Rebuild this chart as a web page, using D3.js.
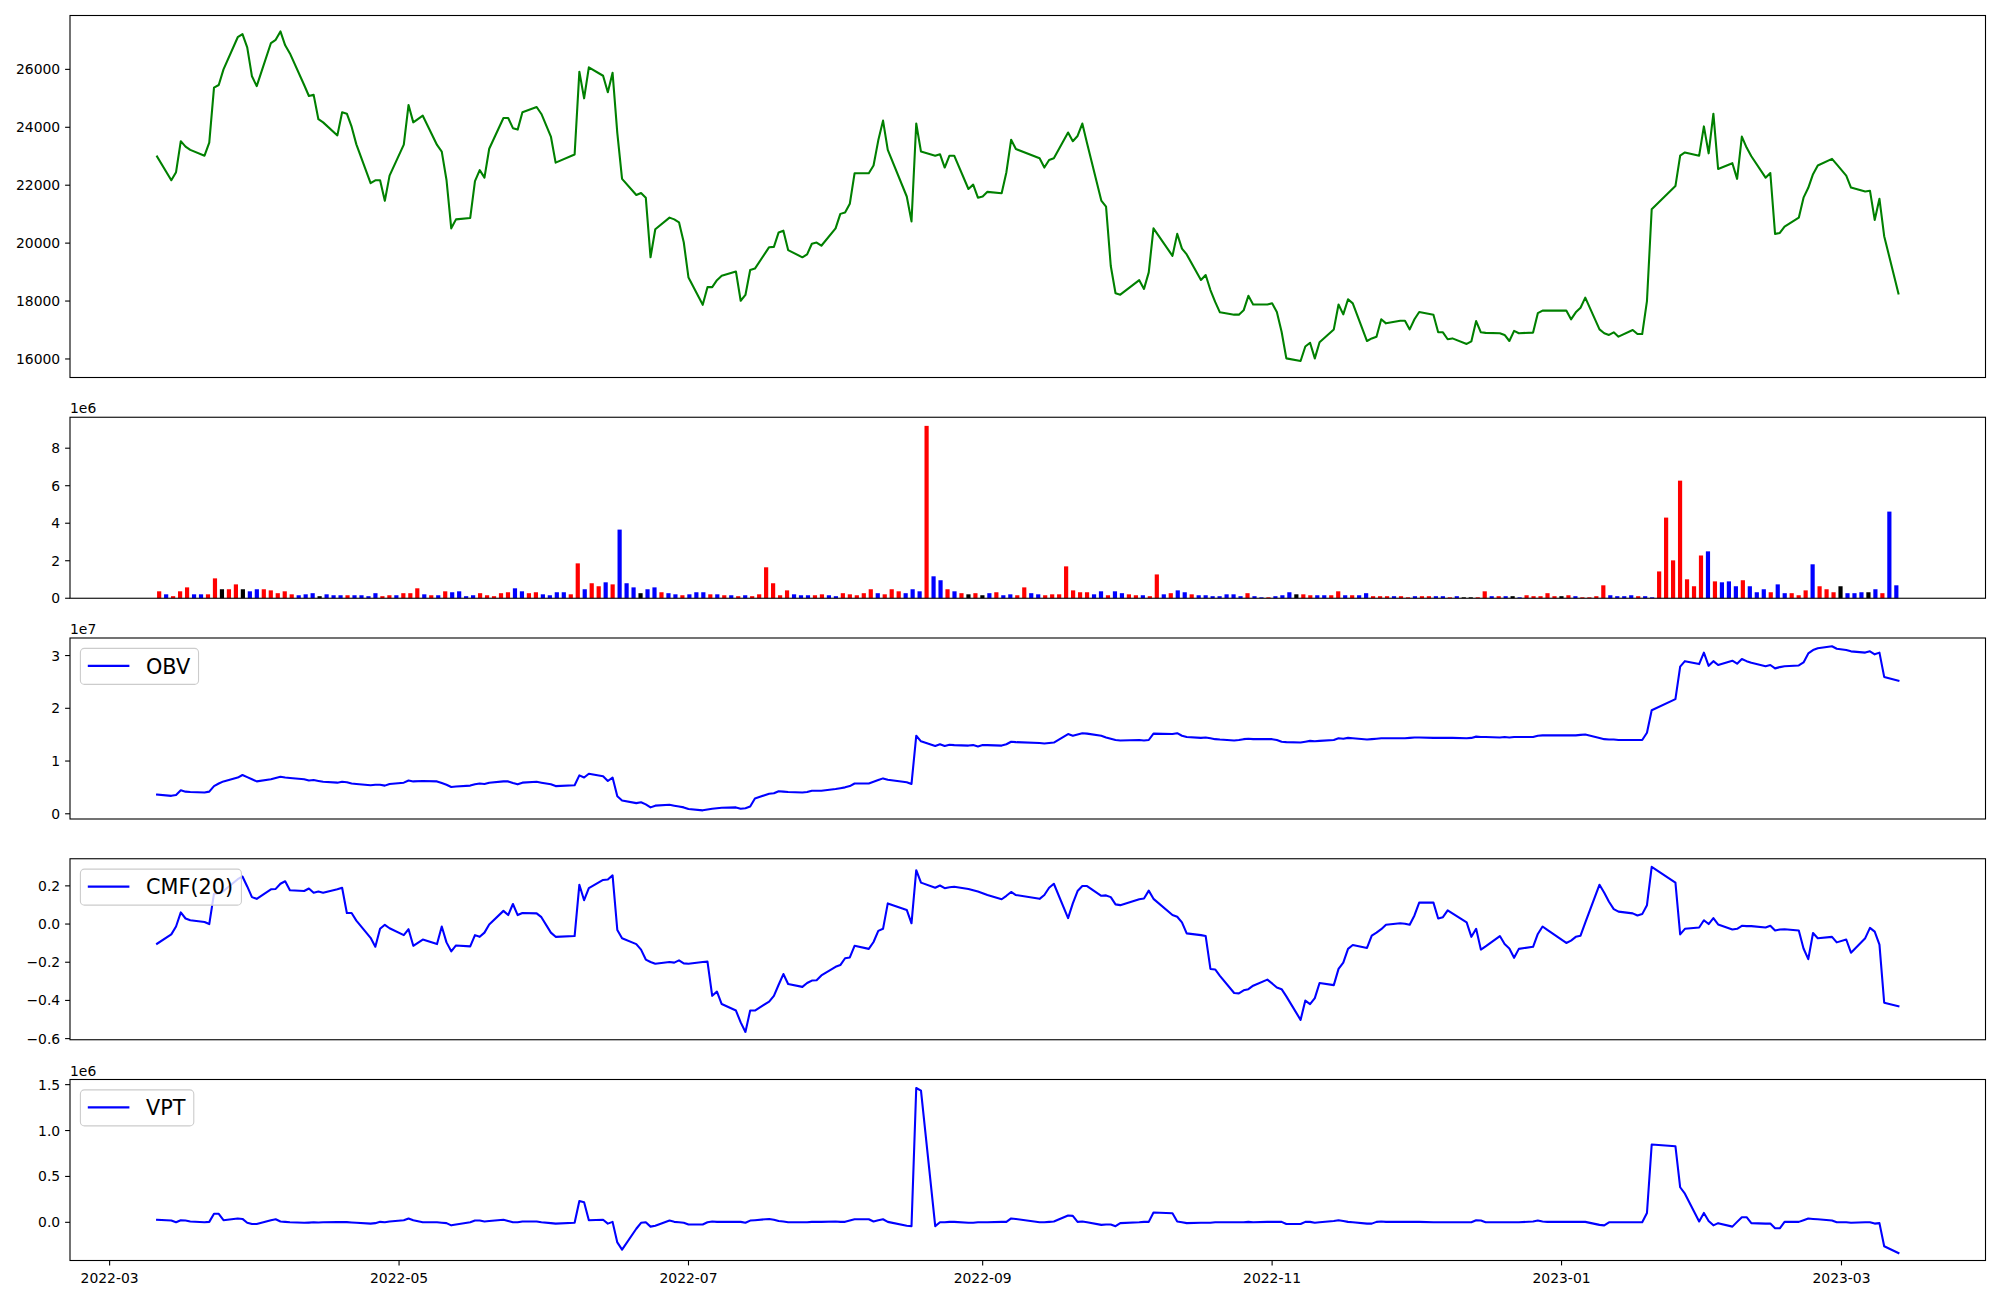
<!DOCTYPE html>
<html><head><meta charset="utf-8">
<script src="https://cdn.jsdelivr.net/npm/d3@7"></script>
<style>
html,body{margin:0;padding:0;background:#fff;}
svg{display:block;font-family:"DejaVu Sans",sans-serif;}
</style></head><body>
<svg id="chart" width="2000" height="1300"></svg>
<script>
// ---------------- DATA ----------------
const tradingMonths = ["2022-03","2022-04","2022-05","2022-06","2022-07","2022-08","2022-09","2022-10","2022-11","2022-12","2023-01","2023-02","2023-03"];
const tradingDaysOfMonth = [
 [11,14,15,16,17,18,21,22,23,24,25,28,29,30,31],
 [1,4,5,6,7,8,11,12,13,14,15,18,19,20,21,22,25,26,27,28,29],
 [2,3,4,6,9,10,11,12,13,16,17,18,19,20,23,24,25,26,27,30,31],
 [2,3,7,8,9,10,13,14,15,16,17,20,21,22,23,24,27,28,29,30],
 [1,4,5,6,7,8,11,12,13,14,15,18,19,20,21,22,25,26,27,28,29],
 [1,2,3,4,5,8,9,10,11,12,16,17,18,19,22,23,24,25,26,29,30,31],
 [1,2,5,6,7,8,13,14,15,16,19,20,21,22,23,26,27,28,29,30],
 [4,5,6,7,11,12,13,14,17,18,19,20,21,24,25,26,27,28,31],
 [1,2,3,4,7,8,9,10,11,14,15,16,17,18,21,22,23,24,25,28,29,30],
 [1,2,5,6,7,8,9,12,13,14,15,16,19,20,21,22,23,26,27,28,29],
 [2,3,4,5,6,9,10,11,12,13,16,17,18,19,20,25,26,27,30,31],
 [1,2,3,6,7,8,9,10,13,14,15,16,17,20,21,22,23,24,27,28],
 [2,3,6,7,8,9,10,13]
];

const closePrice = [
22990,22170,22450,23520,23330,23220,23020,23470,25370,25460,
26000,27110,27220,26760,25760,25420,26910,27020,27310,26830,
26550,25460,25080,25120,24280,24170,23720,24520,24470,24020,
23410,22070,22170,22170,21460,22330,23400,24770,24170,24400,
23390,23160,22180,20510,20820,20870,22140,22520,22260,23260,
24320,24320,23970,23920,24520,24700,24460,23680,22780,23060,
25920,25000,26070,25780,25210,25880,23800,22220,21660,21730,
21570,19510,20480,20880,20820,20720,20030,18810,17870,18480,
18480,18720,18870,19020,18010,18210,19070,19120,19860,19870,
20370,20430,19760,19510,19610,19980,20020,19910,20510,21010,
21060,21360,22410,22410,22680,23550,24230,23220,21610,20750,
24130,23160,23020,23070,22610,23020,23020,21870,22020,21570,
21610,21770,21720,22450,23570,23250,22930,22610,22870,22930,
23820,23520,23700,24130,23450,21470,21260,19210,18270,18220,
18720,18420,18990,20510,19560,20320,19810,19610,18730,18900,
18380,17970,17610,17530,17530,17680,18180,17880,17880,17920,
17620,16940,16020,15930,16430,16560,16020,16580,17020,17880,
17540,18060,17920,16620,16710,16770,17370,17230,17320,17320,
17020,17370,17620,17530,16920,16920,16680,16710,16520,16610,
17310,16920,16900,16890,16830,16620,16970,16890,16910,17580,
17670,17670,17670,17370,17610,17770,18120,17020,16890,16830,
16920,16770,17000,16860,16860,18000,21170,21970,23020,23130,
23020,24030,23100,24470,22560,22760,22220,23680,23300,23000,
22260,22420,20320,20350,20570,20880,21570,21910,22380,22680,
22910,22720,22330,21920,21780,21810,20800,21530,20240,18260];

const volume = [
370000,210000,110000,370000,580000,210000,210000,210000,1060000,480000,
480000,740000,480000,370000,480000,480000,420000,270000,370000,210000,
160000,210000,270000,110000,210000,160000,160000,160000,160000,160000,
110000,270000,110000,160000,160000,270000,270000,530000,210000,160000,
160000,370000,320000,370000,110000,160000,270000,160000,110000,270000,
320000,530000,370000,270000,320000,210000,160000,320000,320000,210000,
1860000,480000,800000,640000,850000,740000,3660000,800000,580000,270000,
480000,580000,320000,270000,210000,160000,210000,320000,320000,210000,
210000,160000,160000,110000,160000,110000,210000,1650000,800000,160000,
420000,210000,160000,160000,160000,210000,160000,110000,270000,210000,
160000,270000,480000,270000,210000,480000,370000,270000,480000,370000,
9190000,1170000,960000,480000,370000,270000,210000,270000,160000,270000,
320000,160000,210000,160000,580000,270000,210000,160000,210000,210000,
1700000,420000,320000,320000,210000,370000,160000,370000,270000,210000,
160000,160000,110000,1270000,210000,270000,420000,320000,210000,160000,
160000,110000,110000,210000,210000,110000,270000,110000,50000,50000,
110000,160000,320000,210000,210000,160000,160000,160000,160000,370000,
160000,160000,160000,270000,110000,110000,110000,110000,110000,50000,
110000,110000,110000,110000,110000,50000,110000,50000,50000,50000,
370000,110000,110000,110000,110000,50000,160000,110000,110000,270000,
110000,110000,160000,110000,50000,50000,110000,690000,160000,110000,
110000,160000,110000,110000,50000,1430000,4300000,2020000,6270000,1010000,
640000,2280000,2500000,900000,850000,900000,640000,960000,640000,320000,
480000,320000,740000,270000,270000,160000,420000,1810000,640000,480000,
320000,640000,270000,270000,320000,320000,480000,270000,4620000,690000];

// r = up (red), b = down (blue), k = unchanged (black)
const volumeDirection =
 "rbrrrbbrrk" + "rrkbbrrrrr" + "bbbkbbbrbb" + "bbrrbrrrbr" + "brbbbbrrrr" +
 "rbbrrbbbbr" + "rbrrbrbbbk" + "bbrbbrbbbr" + "brbrbrrrrr" + "rbbbrrbbrr" +
 "rrrbrrrbbb" + "rbbrbrkrkb" + "rbbrrbbrrr" + "rrrrbbrbbr" + "rbrrbrbbrb" +
 "bbbbbbrbbr" + "bbbkrrbbrr" + "brbbrrrbrr" + "brrbbrbkkr" + "rbrbkbrrrr" +
 "rkrbrrrrbb" + "bbrbbrrrrr" + "rrbrbbbrbb" + "brbbrrrbrr" + "rkbbbkbrbb";

const obv = [
0.364e7,0.340e7,0.356e7,0.445e7,0.420e7,0.412e7,0.404e7,0.420e7,0.525e7,0.574e7,
0.614e7,0.687e7,0.736e7,0.695e7,0.655e7,0.614e7,0.655e7,0.679e7,0.703e7,0.687e7,
0.679e7,0.655e7,0.631e7,0.639e7,0.622e7,0.606e7,0.590e7,0.606e7,0.598e7,0.574e7,
0.566e7,0.542e7,0.550e7,0.550e7,0.534e7,0.566e7,0.590e7,0.631e7,0.614e7,0.622e7,
0.614e7,0.582e7,0.550e7,0.509e7,0.517e7,0.534e7,0.558e7,0.574e7,0.566e7,0.590e7,
0.614e7,0.614e7,0.582e7,0.558e7,0.590e7,0.606e7,0.590e7,0.558e7,0.525e7,0.542e7,
0.728e7,0.687e7,0.760e7,0.711e7,0.622e7,0.687e7,0.331e7,0.251e7,0.202e7,0.218e7,
0.178e7,0.121e7,0.154e7,0.170e7,0.154e7,0.137e7,0.121e7,0.089e7,0.065e7,0.081e7,
0.097e7,0.105e7,0.113e7,0.121e7,0.097e7,0.105e7,0.137e7,0.291e7,0.380e7,0.388e7,
0.428e7,0.420e7,0.412e7,0.404e7,0.412e7,0.437e7,0.437e7,0.437e7,0.469e7,0.485e7,
0.501e7,0.525e7,0.574e7,0.574e7,0.606e7,0.639e7,0.671e7,0.647e7,0.598e7,0.566e7,
1.479e7,1.374e7,1.285e7,1.318e7,1.285e7,1.310e7,1.302e7,1.293e7,1.302e7,1.277e7,
1.302e7,1.302e7,1.293e7,1.318e7,1.366e7,1.358e7,1.342e7,1.334e7,1.342e7,1.350e7,
1.512e7,1.479e7,1.504e7,1.528e7,1.520e7,1.479e7,1.447e7,1.423e7,1.399e7,1.390e7,
1.399e7,1.390e7,1.399e7,1.520e7,1.512e7,1.528e7,1.479e7,1.455e7,1.439e7,1.447e7,
1.431e7,1.415e7,1.407e7,1.390e7,1.399e7,1.415e7,1.423e7,1.415e7,1.415e7,1.415e7,
1.399e7,1.366e7,1.358e7,1.350e7,1.366e7,1.382e7,1.374e7,1.382e7,1.399e7,1.431e7,
1.423e7,1.439e7,1.431e7,1.407e7,1.415e7,1.423e7,1.431e7,1.431e7,1.431e7,1.431e7,
1.439e7,1.447e7,1.447e7,1.439e7,1.439e7,1.439e7,1.439e7,1.439e7,1.431e7,1.439e7,
1.463e7,1.455e7,1.455e7,1.447e7,1.455e7,1.447e7,1.455e7,1.455e7,1.455e7,1.479e7,
1.487e7,1.487e7,1.487e7,1.487e7,1.487e7,1.496e7,1.504e7,1.439e7,1.415e7,1.407e7,
1.407e7,1.399e7,1.399e7,1.399e7,1.399e7,1.536e7,1.964e7,2.175e7,2.789e7,2.894e7,
2.838e7,3.056e7,2.805e7,2.894e7,2.821e7,2.902e7,2.846e7,2.935e7,2.894e7,2.862e7,
2.797e7,2.821e7,2.757e7,2.781e7,2.797e7,2.813e7,2.870e7,3.040e7,3.104e7,3.137e7,
3.177e7,3.129e7,3.104e7,3.080e7,3.056e7,3.080e7,3.023e7,3.056e7,2.595e7,2.522e7];

const cmf20 = [
-0.103,-0.054,-0.013,0.061,0.029,0.020,0.011,0.000,0.159,0.161,
0.173,0.235,0.249,0.197,0.141,0.132,0.182,0.184,0.211,0.224,
0.177,0.173,0.186,0.164,0.170,0.164,0.182,0.190,0.058,0.058,
0.018,-0.072,-0.119,-0.025,-0.004,-0.022,-0.058,-0.027,-0.114,-0.081,
-0.105,-0.013,-0.096,-0.143,-0.112,-0.117,-0.058,-0.067,-0.045,-0.002,
0.069,0.047,0.105,0.047,0.058,0.056,0.036,-0.045,-0.067,-0.063,
0.206,0.125,0.188,0.231,0.233,0.255,-0.031,-0.074,-0.105,-0.134,
-0.186,-0.199,-0.208,-0.199,-0.202,-0.190,-0.206,-0.208,-0.199,-0.197,
-0.376,-0.354,-0.419,-0.453,-0.515,-0.565,-0.453,-0.453,-0.406,-0.376,
-0.318,-0.262,-0.314,-0.329,-0.309,-0.296,-0.294,-0.269,-0.224,-0.215,
-0.179,-0.175,-0.114,-0.130,-0.094,-0.036,-0.025,0.108,0.074,0.004,
0.282,0.217,0.190,0.202,0.188,0.193,0.195,0.184,0.177,0.170,
0.161,0.152,0.130,0.148,0.168,0.152,0.132,0.152,0.190,0.211,
0.031,0.108,0.173,0.199,0.199,0.148,0.150,0.141,0.103,0.099,
0.130,0.134,0.175,0.132,0.047,0.038,0.009,-0.049,-0.058,-0.063,
-0.235,-0.238,-0.271,-0.361,-0.363,-0.347,-0.341,-0.323,-0.291,-0.311,
-0.332,-0.341,-0.379,-0.502,-0.401,-0.419,-0.388,-0.309,-0.320,-0.235,
-0.202,-0.130,-0.110,-0.125,-0.061,-0.045,-0.027,-0.004,0.004,0.002,
-0.004,0.045,0.112,0.112,0.029,0.036,0.072,0.056,0.009,-0.067,
-0.025,-0.134,-0.117,-0.063,-0.105,-0.128,-0.177,-0.130,-0.119,-0.052,
-0.013,-0.031,-0.099,-0.087,-0.067,-0.061,0.007,0.206,0.164,0.117,
0.078,0.065,0.056,0.045,0.052,0.099,0.300,0.217,-0.054,-0.025,
-0.018,0.020,0.000,0.031,-0.002,-0.029,-0.025,-0.009,-0.011,-0.011,
-0.018,-0.009,-0.034,-0.029,-0.027,-0.034,-0.128,-0.184,-0.047,-0.074,
-0.067,-0.096,-0.081,-0.150,-0.074,-0.020,-0.040,-0.108,-0.412,-0.430];

const vpt = [
0.028e6,0.019e6,0.000e6,0.023e6,0.019e6,0.009e6,0.000e6,0.005e6,0.093e6,0.093e6,
0.023e6,0.042e6,0.037e6,-0.005e6,-0.019e6,-0.019e6,0.023e6,0.033e6,0.009e6,0.005e6,
0.000e6,-0.005e6,-0.003e6,0.000e6,-0.002e6,0.000e6,0.002e6,0.003e6,0.002e6,-0.002e6,
-0.005e6,-0.014e6,-0.009e6,0.005e6,0.000e6,0.009e6,0.023e6,0.042e6,0.023e6,0.000e6,
0.000e6,-0.005e6,-0.009e6,-0.033e6,-0.023e6,0.000e6,0.019e6,0.019e6,0.009e6,0.014e6,
0.028e6,0.014e6,0.000e6,0.000e6,0.009e6,0.009e6,0.000e6,-0.009e6,-0.014e6,-0.005e6,
0.233e6,0.219e6,0.023e6,0.028e6,-0.014e6,0.005e6,-0.219e6,-0.298e6,-0.070e6,-0.005e6,
0.000e6,-0.047e6,-0.037e6,0.019e6,0.005e6,0.000e6,-0.005e6,-0.023e6,-0.023e6,0.000e6,
0.009e6,0.005e6,0.005e6,0.005e6,0.005e6,-0.005e6,0.019e6,0.023e6,0.037e6,0.028e6,
0.014e6,0.009e6,0.000e6,0.000e6,0.000e6,0.005e6,0.005e6,0.005e6,0.009e6,0.005e6,
0.005e6,0.019e6,0.033e6,0.033e6,0.009e6,0.023e6,0.033e6,0.005e6,-0.037e6,-0.042e6,
1.463e6,1.435e6,-0.042e6,0.000e6,0.000e6,0.005e6,0.005e6,-0.005e6,-0.005e6,0.000e6,
0.000e6,0.000e6,0.005e6,0.005e6,0.042e6,0.037e6,0.000e6,0.000e6,0.005e6,0.009e6,
0.075e6,0.070e6,0.005e6,0.009e6,0.000e6,-0.028e6,-0.023e6,-0.023e6,-0.042e6,-0.009e6,
0.000e6,0.005e6,0.005e6,0.107e6,0.098e6,0.009e6,0.000e6,-0.009e6,-0.005e6,-0.005e6,
-0.005e6,0.000e6,0.000e6,0.000e6,0.000e6,0.000e6,0.005e6,0.000e6,0.005e6,0.005e6,
0.005e6,0.005e6,-0.019e6,-0.019e6,0.005e6,0.005e6,-0.005e6,0.000e6,0.014e6,0.023e6,
0.014e6,0.005e6,0.000e6,-0.014e6,-0.014e6,0.005e6,0.009e6,0.005e6,0.005e6,0.005e6,
0.005e6,0.005e6,0.005e6,0.000e6,0.000e6,0.000e6,0.000e6,0.000e6,0.000e6,0.000e6,
0.023e6,0.019e6,0.000e6,0.000e6,0.000e6,0.000e6,0.000e6,0.000e6,0.009e6,0.019e6,
0.009e6,0.005e6,0.005e6,0.005e6,0.005e6,0.005e6,0.005e6,-0.028e6,-0.033e6,0.000e6,
0.000e6,0.000e6,0.000e6,0.000e6,0.000e6,0.102e6,0.848e6,0.829e6,0.382e6,0.312e6,
0.009e6,0.102e6,0.014e6,-0.033e6,-0.009e6,-0.047e6,0.005e6,0.056e6,0.056e6,-0.009e6,
-0.014e6,-0.014e6,-0.065e6,-0.065e6,0.005e6,0.005e6,0.023e6,0.042e6,0.037e6,0.033e6,
0.019e6,0.000e6,0.000e6,-0.005e6,0.000e6,0.000e6,-0.014e6,-0.009e6,-0.261e6,-0.335e6];

const priceTicks = [16000,18000,20000,22000,24000,26000];
const volumeTicks = [0,2e6,4e6,6e6,8e6];
const obvTicks = [0,1e7,2e7,3e7];
const cmfTicks = [-0.6,-0.4,-0.2,0.0,0.2];
const vptTicks = [0,0.5e6,1.0e6,1.5e6];
const xTickMonths = ["2022-03","2022-05","2022-07","2022-09","2022-11","2023-01","2023-03"];

// ---------------- RENDER ----------------
const svg = d3.select("#chart");
svg.append("rect").attr("width",2000).attr("height",1300).attr("fill","#fff");

const AX_L = 70, AX_R = 1985.5;
const panelBoxes = [
  {top:15.5,   h:362},
  {top:417.25, h:181},
  {top:638,    h:181},
  {top:858.75, h:181},
  {top:1079.5, h:181}
];
const TICK_FONT = 13.9, LEG_FONT = 20.8, LW = 2.08, SPINE = 1.1;
const minus = s => s.replace("-", "\u2212");

const parseDay = d3.utcParse("%Y-%m-%d");
const dates = tradingMonths.flatMap((m, i) =>
  tradingDaysOfMonth[i].map(d => parseDay(m + "-" + String(d).padStart(2, "0"))));
const n = dates.length;

// time axis (matplotlib 5% margins)
const t0 = +dates[0], t1 = +dates[n - 1], tspan = t1 - t0;
const xTime = d3.scaleUtc().domain([new Date(t0 - 0.05 * tspan), new Date(t1 + 0.05 * tspan)]).range([AX_L, AX_R]);
// bar index axis (bars width 0.6, 5% margins)
const bw = 0.6, ilo = -bw / 2, ihi = n - 1 + bw / 2, ispan = ihi - ilo;
const xIdx = d3.scaleLinear().domain([ilo - 0.05 * ispan, ihi + 0.05 * ispan]).range([AX_L, AX_R]);

function yScale(p, dom) {
  return d3.scaleLinear().domain(dom).range([p.top + p.h, p.top]);
}
const yPrice = yScale(panelBoxes[0], [15360, 27860]);
const yVol   = yScale(panelBoxes[1], [0, 9.65e6]);
const yObv   = yScale(panelBoxes[2], [-0.099e7, 3.333e7]);
const yCmf   = yScale(panelBoxes[3], [-0.606, 0.342]);
const yVpt   = yScale(panelBoxes[4], [-0.416e6, 1.556e6]);

function drawYAxis(y, ticks, fmt) {
  const g = svg.append("g");
  ticks.forEach(t => {
    const yy = y(t);
    g.append("line").attr("x1", AX_L).attr("x2", AX_L - 4.9).attr("y1", yy).attr("y2", yy)
      .attr("stroke", "#000").attr("stroke-width", SPINE);
    g.append("text").attr("x", AX_L - 4.9 - 4.9).attr("y", yy + 5.05)
      .attr("text-anchor", "end").attr("font-size", TICK_FONT).attr("fill", "#000")
      .text(fmt(t));
  });
}
function drawFrame(p) {
  svg.append("rect").attr("x", AX_L).attr("y", p.top).attr("width", AX_R - AX_L).attr("height", p.h)
    .attr("fill", "none").attr("stroke", "#000").attr("stroke-width", SPINE);
}
function drawOffset(p, label) {
  svg.append("text").attr("x", AX_L).attr("y", p.top - 4).attr("font-size", TICK_FONT)
    .attr("fill", "#000").text(label);
}
function drawLine(values, y, color) {
  const line = d3.line().x((d, i) => xTime(dates[i])).y(d => y(d));
  svg.append("path").attr("d", line(values)).attr("fill", "none").attr("stroke", color)
    .attr("stroke-width", LW).attr("stroke-linejoin", "round").attr("stroke-linecap", "square");
}
function drawLegend(p, label, color) {
  const bx = AX_L + 10.4, by = p.top + 10.4;
  const g = svg.append("g");
  const rect = g.append("rect").attr("x", bx).attr("y", by).attr("height", 36).attr("rx", 4).attr("ry", 4)
    .attr("fill", "#fff").attr("fill-opacity", 0.8).attr("stroke", "#cccccc").attr("stroke-width", 1.1);
  g.append("line").attr("x1", bx + 7.4).attr("x2", bx + 7.4 + 41.6).attr("y1", by + 17.5).attr("y2", by + 17.5)
    .attr("stroke", color).attr("stroke-width", LW);
  const tx = bx + 7.4 + 41.6 + 16.6;
  const txt = g.append("text").attr("x", tx).attr("y", by + 25.2).attr("font-size", LEG_FONT)
    .attr("fill", "#000").text(label);
  const tw = txt.node().getComputedTextLength();
  rect.attr("width", tx + tw + 8.3 - bx);
}

// Panel 1: price
drawLine(closePrice, yPrice, "green");
drawYAxis(yPrice, priceTicks, d => String(d));
drawFrame(panelBoxes[0]);

// Panel 2: volume bars
const colorOf = {r: "red", b: "blue", k: "black"};
const barW = xIdx(bw) - xIdx(0);
svg.append("g").selectAll("rect").data(volume).join("rect")
  .attr("x", (d, i) => xIdx(i - bw / 2))
  .attr("width", barW)
  .attr("y", d => yVol(d))
  .attr("height", d => yVol(0) - yVol(d))
  .attr("fill", (d, i) => colorOf[volumeDirection[i]]);
drawYAxis(yVol, volumeTicks, d => String(d / 1e6));
drawFrame(panelBoxes[1]);
drawOffset(panelBoxes[1], "1e6");

// Panel 3: OBV
drawLine(obv, yObv, "blue");
drawYAxis(yObv, obvTicks, d => String(d / 1e7));
drawFrame(panelBoxes[2]);
drawOffset(panelBoxes[2], "1e7");
drawLegend(panelBoxes[2], "OBV", "blue");

// Panel 4: CMF
drawLine(cmf20, yCmf, "blue");
drawYAxis(yCmf, cmfTicks, d => minus(d3.format(".1f")(d)));
drawFrame(panelBoxes[3]);
drawLegend(panelBoxes[3], "CMF(20)", "blue");

// Panel 5: VPT
drawLine(vpt, yVpt, "blue");
drawYAxis(yVpt, vptTicks, d => d3.format(".1f")(d / 1e6));
drawFrame(panelBoxes[4]);
drawOffset(panelBoxes[4], "1e6");
drawLegend(panelBoxes[4], "VPT", "blue");

// shared x axis (bottom)
const pb = panelBoxes[4], yb = pb.top + pb.h;
const parseMonth = d3.utcParse("%Y-%m");
xTickMonths.forEach(m => {
  const xx = xTime(parseMonth(m));
  svg.append("line").attr("x1", xx).attr("x2", xx).attr("y1", yb).attr("y2", yb + 4.9)
    .attr("stroke", "#000").attr("stroke-width", SPINE);
  svg.append("text").attr("x", xx).attr("y", yb + 22.5).attr("text-anchor", "middle")
    .attr("font-size", TICK_FONT).attr("fill", "#000").text(m);
});
</script>
</body></html>
